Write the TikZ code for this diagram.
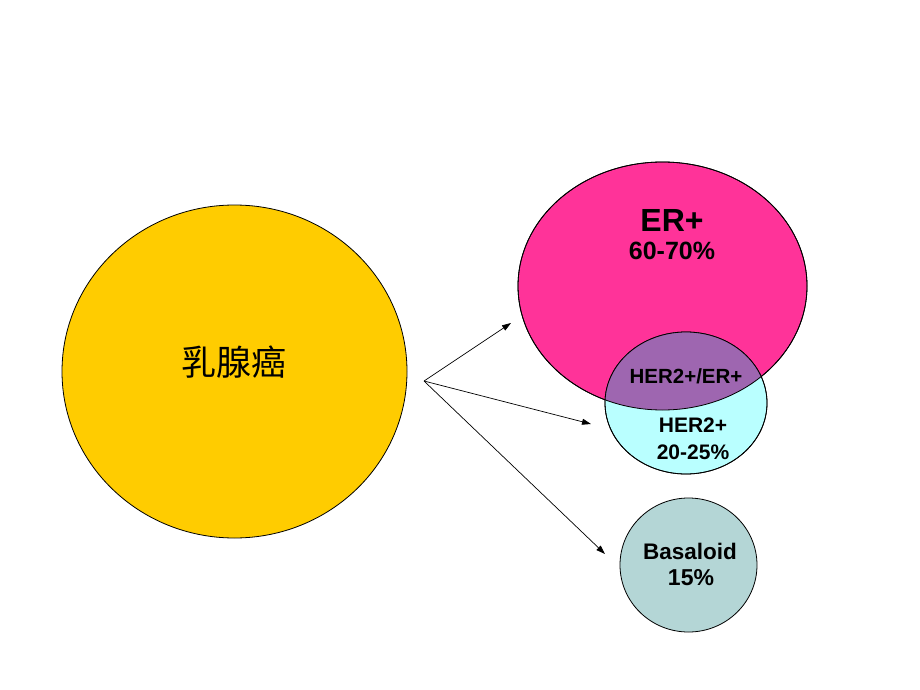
\documentclass[tikz,border=0pt]{standalone}
\usepackage{fontspec}
\setmainfont{Liberation Sans}
\newfontfamily\cjk{Noto Sans CJK SC}
\usetikzlibrary{shapes.geometric, arrows.meta}
\definecolor{cancer}{RGB}{255, 204, 0}
\definecolor{erpos}{RGB}{255, 51, 153}
\definecolor{herpos}{RGB}{185, 255, 255}
\definecolor{both}{RGB}{158, 102, 176}
\definecolor{basal}{RGB}{180, 214, 214}

\begin{document}
\begin{tikzpicture}[
    x=1pt, y=-1pt,
    blob/.style={
        ellipse, fill=#1, draw=black, line width=0.8pt,
        inner sep=0pt, align=center,
    },
    rim/.style={draw=black, line width=0.8pt},
    label/.style={font=\bfseries\fontsize{#1}{#1}\selectfont, align=center},
    pointer/.style={-{Triangle[length=9pt, width=6pt]}, line width=0.7pt},
]

% --- Page frame ---
\useasboundingbox (0,0) rectangle (920,690);

% --- Source circle ---
\node[blob=cancer, minimum width=345pt, minimum height=333pt] (cancer) at (234.5,371.5) {};
\node[font=\cjk\fontsize{35}{35}\selectfont] (title) at (234,362) {乳腺癌};

% --- Subtype circles ---
\node[blob=erpos, minimum width=289pt, minimum height=248pt] (er) at (662.5,286) {};
\node[blob=herpos, minimum width=162pt, minimum height=142pt] (her) at (686,403) {};

% --- Overlap of ER+ and HER2+ ---
\begin{scope}
    \clip (er.center) ellipse [x radius=144.5pt, y radius=124pt];
    \fill[both] (her.center) ellipse [x radius=81pt, y radius=71pt];
\end{scope}
\draw[rim] (er.center) ellipse [x radius=144.5pt, y radius=124pt];
\draw[rim] (her.center) ellipse [x radius=81pt, y radius=71pt];

\node[blob=basal, minimum width=137pt, minimum height=134pt] (basal) at (688.5,565) {};

% --- Labels ---
\node[label=32] (erlab) at (672,220) {ER+};
\node[label=25] (erpct) at (672,251) {60-70\%};
\node[label=20.5] (bothlab) at (686,376) {HER2+/ER+};
\node[label=21] (herlab) at (693,425) {HER2+};
\node[label=21] (herpct) at (693,452) {20-25\%};
\node[label=22.5] (basallab) at (690,551) {Basaloid};
\node[label=23] (basalpct) at (691,578) {15\%};

% --- Arrows ---
\coordinate (src) at (424,381);
\coordinate (toer) at (511,323);
\coordinate (toher) at (591,424);
\coordinate (tobasal) at (605,554);
\draw[pointer] (src) -- (toer);
\draw[pointer] (src) -- (toher);
\draw[pointer] (src) -- (tobasal);

\end{tikzpicture}
\end{document}
